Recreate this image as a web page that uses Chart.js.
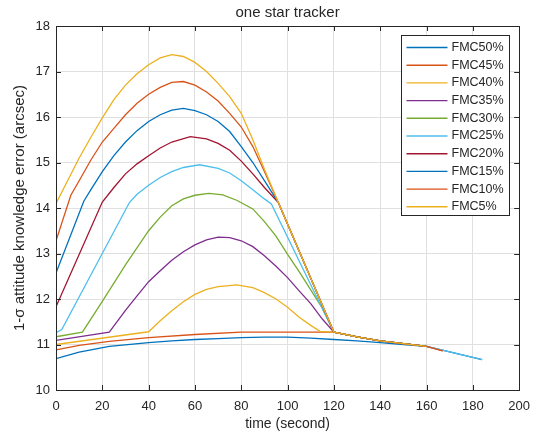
<!DOCTYPE html>
<html>
<head>
<meta charset="utf-8">
<script src="https://cdn.jsdelivr.net/npm/chart.js@4.4.0/dist/chart.umd.min.js"></script>
<style>
html,body{margin:0;padding:0;background:#fff}
#wrap{width:539px;height:439px}
</style>
</head>
<body>
<div id="wrap"><canvas id="chart" width="539" height="439"></canvas></div>
<script>
// series names + matlab default colour order
const labels = ['FMC50%','FMC45%','FMC40%','FMC35%','FMC30%','FMC25%','FMC20%','FMC15%','FMC10%','FMC5%'];
const colors = ['#0072BD','#D95319','#EDB120','#7E2F8E','#77AC30','#4DBEEE','#A2142F','#0072BD','#D95319','#EDB120'];

// shared tail after t=120 (curves merge)
const tailT = [130,140,150,160];
const tailY = [11.17,11.08,11.02,10.96];

const fmc50T = [0,10,23,40,50,60,70,80,90,100,110,120,130,140,150,160,170,184];
const fmc50Y = [10.69,10.83,10.96,11.04,11.08,11.11,11.13,11.15,11.16,11.16,11.14,11.11,11.08,11.04,11.0,10.96,10.84,10.67];

const fmc45T = [0,10,23,40,60,80,100,120,130,140,150,160,167];
const fmc45Y = [10.88,10.98,11.07,11.15,11.22,11.27,11.27,11.27,11.17,11.08,11.02,10.96,10.86];

const fmc40T = [0,40,45,50,55,60,65,70,78,85,90,95,100,105,110,114,120];
const fmc40Y = [11.0,11.28,11.52,11.74,11.94,12.1,12.21,12.27,12.31,12.25,12.14,12.0,11.82,11.6,11.42,11.29,11.27];

const fmc35T = [0,23,30,35,40,45,50,55,60,65,70,75,80,85,90,95,100,105,110,115,120];
const fmc35Y = [11.09,11.27,11.75,12.07,12.38,12.62,12.85,13.04,13.19,13.3,13.36,13.35,13.28,13.15,12.95,12.72,12.47,12.18,11.9,11.56,11.27];

const fmc30T = [0,11.4,20,30,40,45,50,55,60,66,72,78,85,90,95,100,105,110,115,120];
const fmc30Y = [11.17,11.27,11.95,12.75,13.5,13.8,14.05,14.2,14.28,14.32,14.29,14.17,13.98,13.7,13.38,12.98,12.6,12.2,11.8,11.27];

const fmc25T = [0,2.5,31.7,35,40,45,50,55,62,70,75,80,85,90,93,120,130,140,150,160,170,184];
const fmc25Y = [11.26,11.33,14.12,14.3,14.5,14.67,14.8,14.89,14.95,14.87,14.77,14.6,14.4,14.2,14.09,11.27,11.17,11.08,11.02,10.96,10.84,10.67];

const fmc20T = [0,20,25,30,35,40,45,50,58,65,70,75,80,85,90,96,120];
const fmc20Y = [11.83,14.13,14.45,14.75,14.97,15.15,15.32,15.45,15.57,15.52,15.42,15.27,15.03,14.75,14.45,14.12,11.27];

const fmc15T = [0,12,15,20,25,30,35,40,45,50,55,60,65,70,75,80,85,90,96,120];
const fmc15Y = [12.57,14.15,14.4,14.8,15.15,15.45,15.7,15.9,16.05,16.15,16.19,16.14,16.05,15.9,15.68,15.35,15.0,14.6,14.12,11.27];

const fmc10T = [0,6.4,10,15,20,25,30,35,40,45,50,55,60,65,70,75,80,85,90,96,120,130,140,150,160,167];
const fmc10Y = [13.28,14.28,14.6,15.05,15.45,15.75,16.05,16.3,16.5,16.65,16.76,16.78,16.7,16.55,16.35,16.08,15.78,15.35,14.8,14.12,11.27,11.17,11.08,11.02,10.96,10.86];

const fmc5T = [0,5,10,15,20,25,30,35,40,45,50,55,60,65,70,75,80,85,90,96,120];
const fmc5Y = [14.1,14.6,15.1,15.55,15.98,16.38,16.7,16.95,17.15,17.3,17.37,17.33,17.2,17.0,16.74,16.45,16.08,15.5,14.85,14.12,11.27];

const xMin = 0, xMax = 200, xStep = 20;
const yMin = 10, yMax = 18, yStep = 1;

function pts(t, y, withTail){
  const out = t.map((v,i)=>({x:v,y:y[i]}));
  if(withTail) tailT.forEach((v,i)=>out.push({x:v,y:tailY[i]}));
  return out;
}

const seriesPts = [
  pts(fmc50T,fmc50Y,false),
  pts(fmc45T,fmc45Y,false),
  pts(fmc40T,fmc40Y,true),
  pts(fmc35T,fmc35Y,true),
  pts(fmc30T,fmc30Y,true),
  pts(fmc25T,fmc25Y,false),
  pts(fmc20T,fmc20Y,true),
  pts(fmc15T,fmc15Y,true),
  pts(fmc10T,fmc10Y,false),
  pts(fmc5T,fmc5Y,true)
];

const axisCol = '#262626';
Chart.defaults.font.family = '"Liberation Sans", Arial, Helvetica, sans-serif';
Chart.defaults.color = axisCol;

// box around axes with inward ticks on all sides
const frame = {
  id:'frame',
  afterDatasetsDraw(chart){
    const {ctx, chartArea:a, scales:{x,y}} = chart;
    ctx.save();
    ctx.strokeStyle = axisCol;
    ctx.lineWidth = 1;
    ctx.beginPath();
    x.ticks.forEach(t=>{
      const px = Math.round(x.getPixelForValue(t.value))+0.5;
      ctx.moveTo(px,a.bottom); ctx.lineTo(px,a.bottom-5);
      ctx.moveTo(px,a.top); ctx.lineTo(px,a.top+5);
    });
    y.ticks.forEach(t=>{
      const py = Math.round(y.getPixelForValue(t.value))+0.5;
      ctx.moveTo(a.left,py); ctx.lineTo(a.left+5,py);
      ctx.moveTo(a.right,py); ctx.lineTo(a.right-5,py);
    });
    ctx.stroke();
    ctx.strokeRect(Math.round(a.left)+0.5, Math.round(a.top)+0.5, Math.round(a.right-a.left), Math.round(a.bottom-a.top));
    ctx.restore();
  }
};

// matlab style legend box in the top right corner
const boxLegend = {
  id:'boxLegend',
  afterDraw(chart){
    const {ctx, chartArea:a} = chart;
    const ds = chart.data.datasets;
    const w = 108, h = 180;
    const x0 = Math.round(a.right - 10 - w)+0.5, y0 = Math.round(a.top + 9)+0.5;
    ctx.save();
    ctx.fillStyle = '#fff';
    ctx.fillRect(x0,y0,w,h);
    ctx.strokeStyle = axisCol;
    ctx.lineWidth = 1;
    ctx.strokeRect(x0,y0,w,h);
    ctx.font = '12.5px "Liberation Sans", Arial, sans-serif';
    ctx.textBaseline = 'middle';
    ctx.textAlign = 'left';
    ds.forEach((d,i)=>{
      const yy = y0 + 12 + i*17.7;
      ctx.strokeStyle = d.borderColor;
      ctx.lineWidth = 1.4;
      ctx.beginPath(); ctx.moveTo(x0+5,yy); ctx.lineTo(x0+46,yy); ctx.stroke();
      ctx.fillStyle = axisCol;
      ctx.fillText(d.label, x0+50, yy);
    });
    ctx.restore();
  }
};

new Chart(document.getElementById('chart').getContext('2d'),{
  type:'line',
  data:{
    datasets: labels.map((l,i)=>({
      label:l,
      data:seriesPts[i],
      borderColor:colors[i],
      backgroundColor:colors[i],
      borderWidth:1.3,
      pointRadius:0,
      tension:0,
      fill:false,
      order:labels.length-1-i
    }))
  },
  options:{
    responsive:false,
    animation:false,
    layout:{padding:{left:0,right:19,top:0,bottom:0}},
    plugins:{
      legend:{display:false},
      tooltip:{enabled:false},
      title:{display:true,text:'one star tracker',fullSize:false,color:axisCol,
        font:{size:15,weight:'normal'},padding:{top:4,bottom:4}}
    },
    scales:{
      x:{
        type:'linear',min:xMin,max:xMax,
        ticks:{stepSize:xStep,padding:9,font:{size:13},color:axisCol,maxRotation:0},
        grid:{color:'#e0e0e0',drawTicks:false},
        border:{display:false},
        title:{display:true,text:'time (second)',font:{size:14},color:axisCol,padding:{top:0,bottom:6.5}},
        afterFit(s){s.height=49;}
      },
      y:{
        type:'linear',min:yMin,max:yMax,
        ticks:{stepSize:yStep,padding:6,font:{size:13},color:axisCol},
        grid:{color:'#e0e0e0',drawTicks:false},
        border:{display:false},
        title:{display:true,text:'1-σ attitude knowledge error (arcsec)',font:{size:15},color:axisCol,padding:{top:11,bottom:0}},
        afterFit(s){s.width=56;}
      }
    }
  },
  plugins:[frame,boxLegend]
});
</script>
</body>
</html>
